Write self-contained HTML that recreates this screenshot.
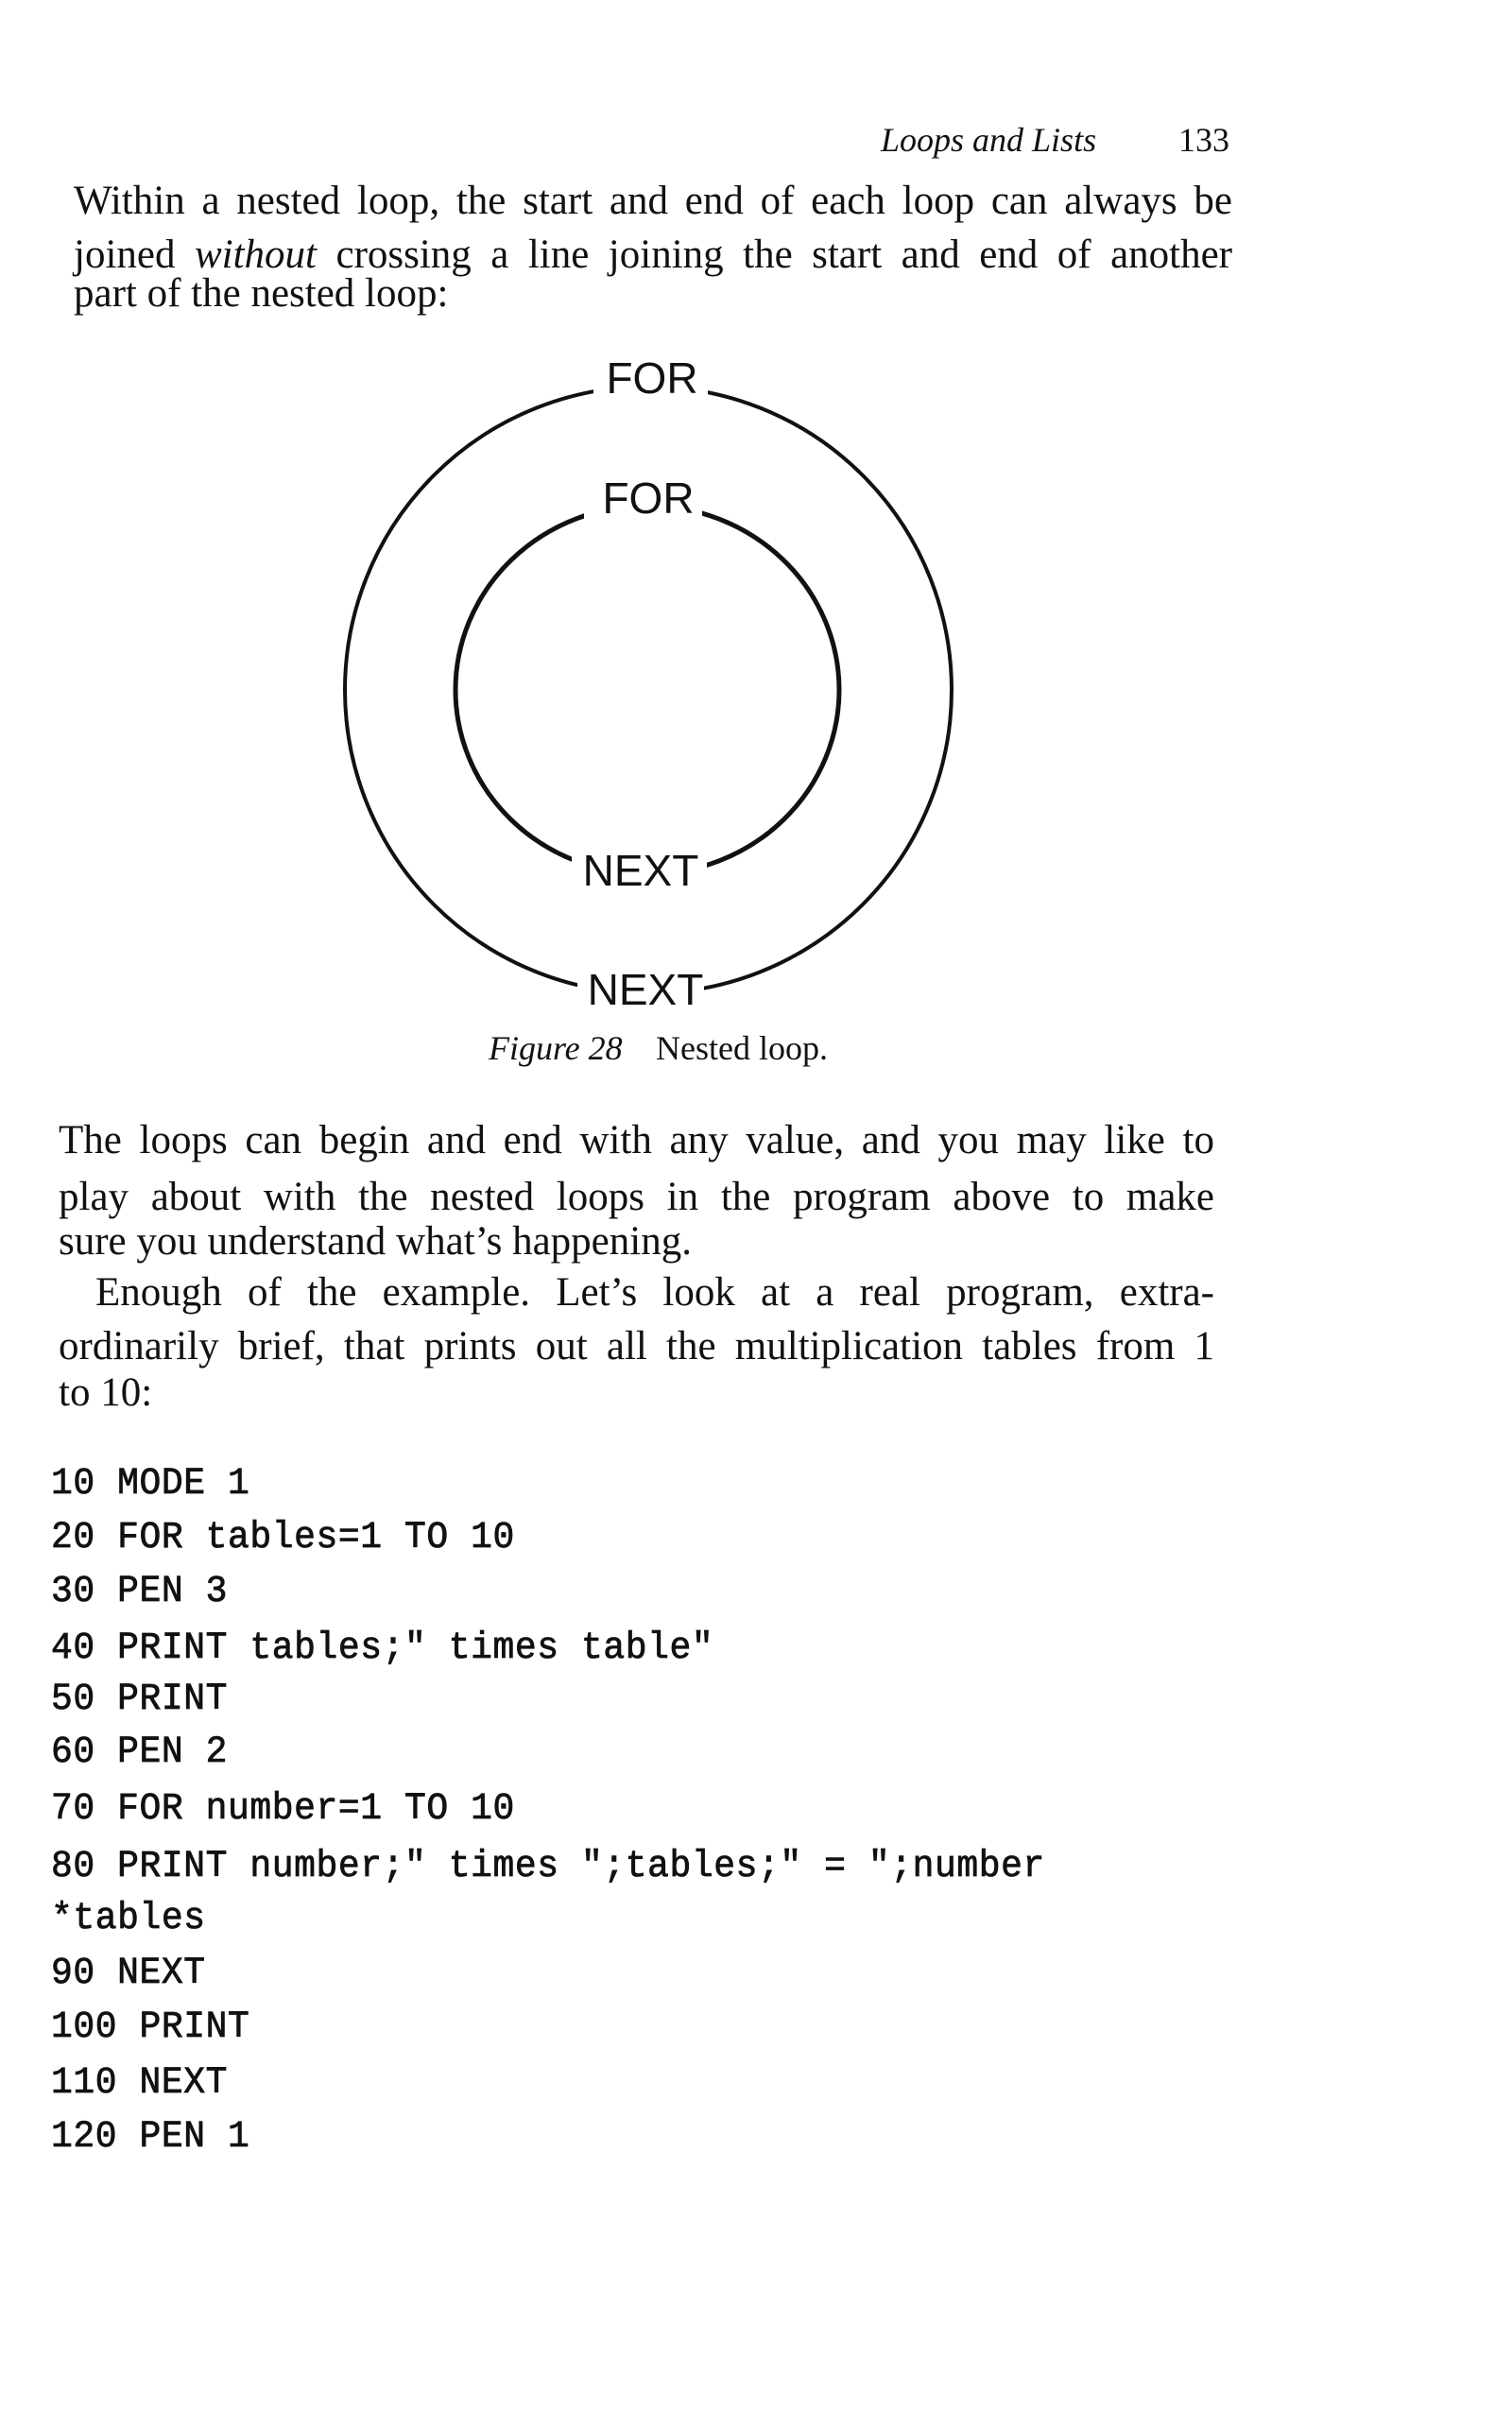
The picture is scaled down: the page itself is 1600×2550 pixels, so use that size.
<!DOCTYPE html>
<html><head><meta charset="utf-8"><style>
html,body{margin:0;padding:0;background:#fff;}
body{width:1600px;height:2550px;position:relative;overflow:hidden;color:#111;}
.t{position:absolute;font-family:"Liberation Serif",serif;font-size:43px;line-height:43px;}
.j{text-align:justify;text-align-last:justify;}
.c{position:absolute;left:54px;font-family:"Liberation Mono",monospace;font-size:40px;line-height:40px;letter-spacing:0.6px;white-space:pre;transform:scaleX(0.95);transform-origin:left;-webkit-text-stroke:0.8px #111;}
</style></head><body>
<div class="t" style="left:932px;top:127px;font-style:italic;font-size:36px;">Loops and Lists</div>
<div class="t" style="left:1247px;top:127px;font-size:36px;">133</div>

<div class="t j" style="left:78px;top:191px;width:1226px;">Within a nested loop, the start and end of each loop can always be</div>
<div class="t j" style="left:78px;top:248px;width:1226px;">joined <i>without</i> crossing a line joining the start and end of another</div>
<div class="t" style="left:78px;top:289px;">part of the nested loop:</div>

<svg style="position:absolute;left:0;top:0" width="1600" height="1200">
<circle cx="686" cy="730" r="321" fill="none" stroke="#111" stroke-width="4"/>
<ellipse cx="685" cy="730" rx="203" ry="195" fill="none" stroke="#111" stroke-width="5"/>
<rect x="628" y="380" width="121" height="50" fill="#fff"/>
<rect x="618" y="505" width="125" height="50" fill="#fff"/>
<rect x="605" y="895" width="143" height="55" fill="#fff"/>
<rect x="611" y="1022" width="134" height="55" fill="#fff"/>
<g font-family="Liberation Sans, sans-serif" font-size="46" fill="#111" text-anchor="middle">
<text x="690" y="416">FOR</text>
<text x="686" y="543">FOR</text>
<text x="678" y="937">NEXT</text>
<text x="683" y="1063">NEXT</text>
</g>
</svg>

<div class="t" style="left:517px;top:1088px;font-size:36px;"><i>Figure 28</i></div>
<div class="t" style="left:694px;top:1088px;font-size:36px;">Nested loop.</div>

<div class="t j" style="left:62px;top:1185px;width:1223px;">The loops can begin and end with any value, and you may like to</div>
<div class="t j" style="left:62px;top:1245px;width:1223px;">play about with the nested loops in the program above to make</div>
<div class="t" style="left:62px;top:1292px;">sure you understand what’s happening.</div>
<div class="t j" style="left:101px;top:1346px;width:1184px;">Enough of the example. Let’s look at a real program, extra-</div>
<div class="t j" style="left:62px;top:1403px;width:1223px;">ordinarily brief, that prints out all the multiplication tables from 1</div>
<div class="t" style="left:62px;top:1452px;">to 10:</div>

<div class="c" style="top:1551px;">10 MODE 1</div>
<div class="c" style="top:1608px;">20 FOR tables=1 TO 10</div>
<div class="c" style="top:1665px;">30 PEN 3</div>
<div class="c" style="top:1725px;">40 PRINT tables;" times table"</div>
<div class="c" style="top:1779px;">50 PRINT</div>
<div class="c" style="top:1835px;">60 PEN 2</div>
<div class="c" style="top:1895px;">70 FOR number=1 TO 10</div>
<div class="c" style="top:1956px;">80 PRINT number;" times ";tables;" = ";number</div>
<div class="c" style="top:2011px;">*tables</div>
<div class="c" style="top:2069px;">90 NEXT</div>
<div class="c" style="top:2126px;">100 PRINT</div>
<div class="c" style="top:2185px;">110 NEXT</div>
<div class="c" style="top:2242px;">120 PEN 1</div>
</body></html>
